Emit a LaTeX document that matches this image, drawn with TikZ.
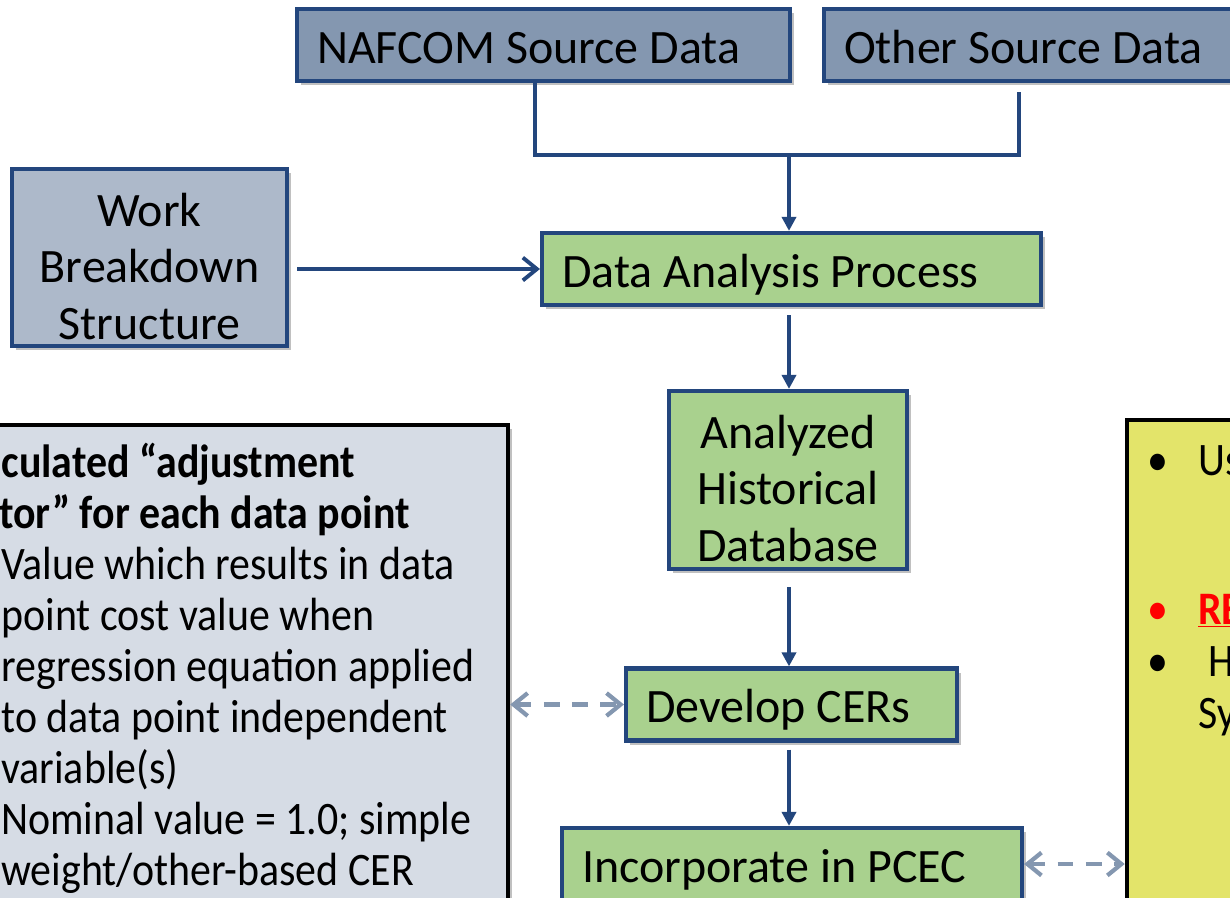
\documentclass[tikz,border=0pt]{standalone}
\usepackage{fontspec}
\setmainfont{Carlito}[FakeStretch=0.9]
\newfontfamily\boxfamily{Carlito}
\usetikzlibrary{arrows.meta,calc,shadows}
\definecolor{flowBlue}{RGB}{35,70,125}
\definecolor{srcBlue}{RGB}{132,151,176}
\definecolor{wbsBlue}{RGB}{173,185,202}
\definecolor{stepGreen}{RGB}{169,209,142}
\definecolor{noteGray}{RGB}{214,220,229}
\definecolor{noteYellow}{RGB}{227,228,106}
\definecolor{linkGray}{RGB}{132,151,176}
\newcommand{\slidefont}{\fontsize{26.5pt}{32.4pt}\selectfont}
\newcommand{\boxfont}{\fontsize{27.3pt}{32.4pt}\boxfamily}

\tikzset{
  flatbox/.style={draw=flowBlue, line width=2.4pt, inner xsep=0.4cm, inner ysep=0pt,
    minimum height=1.44cm, text height=0.92cm, text depth=0.2cm, font=\boxfont,
    drop shadow={shadow xshift=2.5pt, shadow yshift=-2.5pt, opacity=0.35, fill=black!70}},
  srcbox/.style={flatbox, fill=srcBlue, align=flush left},
  wbsbox/.style={flatbox, fill=wbsBlue},
  stepbox/.style={flatbox, fill=stepGreen, align=flush left},
  boxtxt/.style={align=center, inner sep=0pt, font=\boxfont},
  notebox/.style={draw=black, line width=2.6pt,
    drop shadow={shadow xshift=2.5pt, shadow yshift=-2.5pt, opacity=0.35, fill=black!70}},
  notetxt/.style={anchor=base west, inner sep=0pt, font=\slidefont},
  headtxt/.style={notetxt, font=\slidefont\bfseries},
  flow/.style={draw=flowBlue, line width=2.2pt, -{Triangle[length=8pt,width=8pt]}},
  feed/.style={draw=flowBlue, line width=2.2pt, -{Straight Barb[length=8pt,width=13pt]}},
  link/.style={draw=linkGray, line width=2.4pt, dash pattern=on 9pt off 7pt,
    {Straight Barb[length=8pt,width=13pt]}-{Straight Barb[length=8pt,width=13pt]}},
}

\begin{document}
\begin{tikzpicture}[x=0.02cm,y=-0.02cm]
  \useasboundingbox (0,0) rectangle (1230,897);
  \clip (0,0) rectangle (1230,897);
  \fill[white] (0,0) rectangle (1230,897);

  % side notes
  \node[notebox, fill=noteGray, minimum width=12.56cm, minimum height=10.7cm] (adjbox) at (194,692.5) {};
  \node[notebox, fill=noteYellow, minimum width=5.46cm, minimum height=10.8cm] (usebox) at (1263.5,690) {};

  % inputs
  \node[srcbox, text width=9.06cm] (nafcom) at (543.5,45) {NAFCOM Source Data};
  \node[srcbox, text width=7.76cm] (other) at (1038,45) {Other Source Data};
  \node[wbsbox, minimum width=5.5cm, minimum height=3.54cm] (wbs) at (149.5,257.5) {};
  \node[boxtxt] (wbstxt) at (149.5,266.5) {Work\\Breakdown\\Structure};

  % main chain
  \node[stepbox, text width=9.18cm] (dap) at (791.5,269) {Data Analysis Process};
  \node[stepbox, minimum width=4.76cm, minimum height=3.56cm] (ahd) at (788,480) {};
  \node[boxtxt] (ahdtxt) at (788,488.5) {Analyzed\\Historical\\Database};
  \node[stepbox, text width=5.82cm] (cer) at (791.5,704.5) {Develop CERs};
  \node[stepbox, text width=8.4cm] (pcec) at (792,864) {Incorporate in PCEC};

  % connectors
  \coordinate (join) at (789,155);
  \draw[flowBlue, line width=2.2pt] ([xshift=-0.17cm]nafcom.south) |- (join) -| ([xshift=-0.38cm,yshift=-0.18cm]other.south);
  \draw[flow] (join) -- (join |- dap.north);
  \draw[feed, shorten <=0.16cm] (wbs.east |- dap.west) -- (dap.west);
  \draw[flow, shorten <=0.16cm] (dap.south -| join) -- (ahd.north -| join);
  \draw[flow, shorten <=0.32cm] (ahd.south -| join) -- (cer.north -| join);
  \draw[flow, shorten <=0.14cm] (cer.south -| join) -- (pcec.north -| join);
  \draw[link] (adjbox.east |- cer.west) -- (cer.west);
  \draw[link] (pcec.east) -- (usebox.west |- pcec.east);

  % adjustment factor text
  \node[headtxt] (adjhead1) at (-52,477) {Calculated “adjustment};
  \node[headtxt] (adjhead2) at (-52,528) {factor” for each data point};
  \foreach \t [count=\i] in {Value which results in data, point cost value when,
      regression equation applied, to data point independent, variable(s),
      Nominal value = 1.0; simple, weight/other-based CER}
    \node[notetxt] (adjline\i) at (1,528+51*\i) {\t};

  % usage text
  \node[notetxt] (usebul1) at (1147,475) {•};
  \node[notetxt] (useln1) at (1198,475) {Us};
  \node[notetxt, text=red] (usebul2) at (1147,624) {•};
  \node[headtxt, text=red] (useln2) at (1198,624) {\underline{RE}};
  \node[notetxt] (usebul3) at (1147,676) {•};
  \node[notetxt] (useln3) at (1208,676) {H};
  \node[notetxt] (useln4) at (1198,728) {Sy};
\end{tikzpicture}
\end{document}
